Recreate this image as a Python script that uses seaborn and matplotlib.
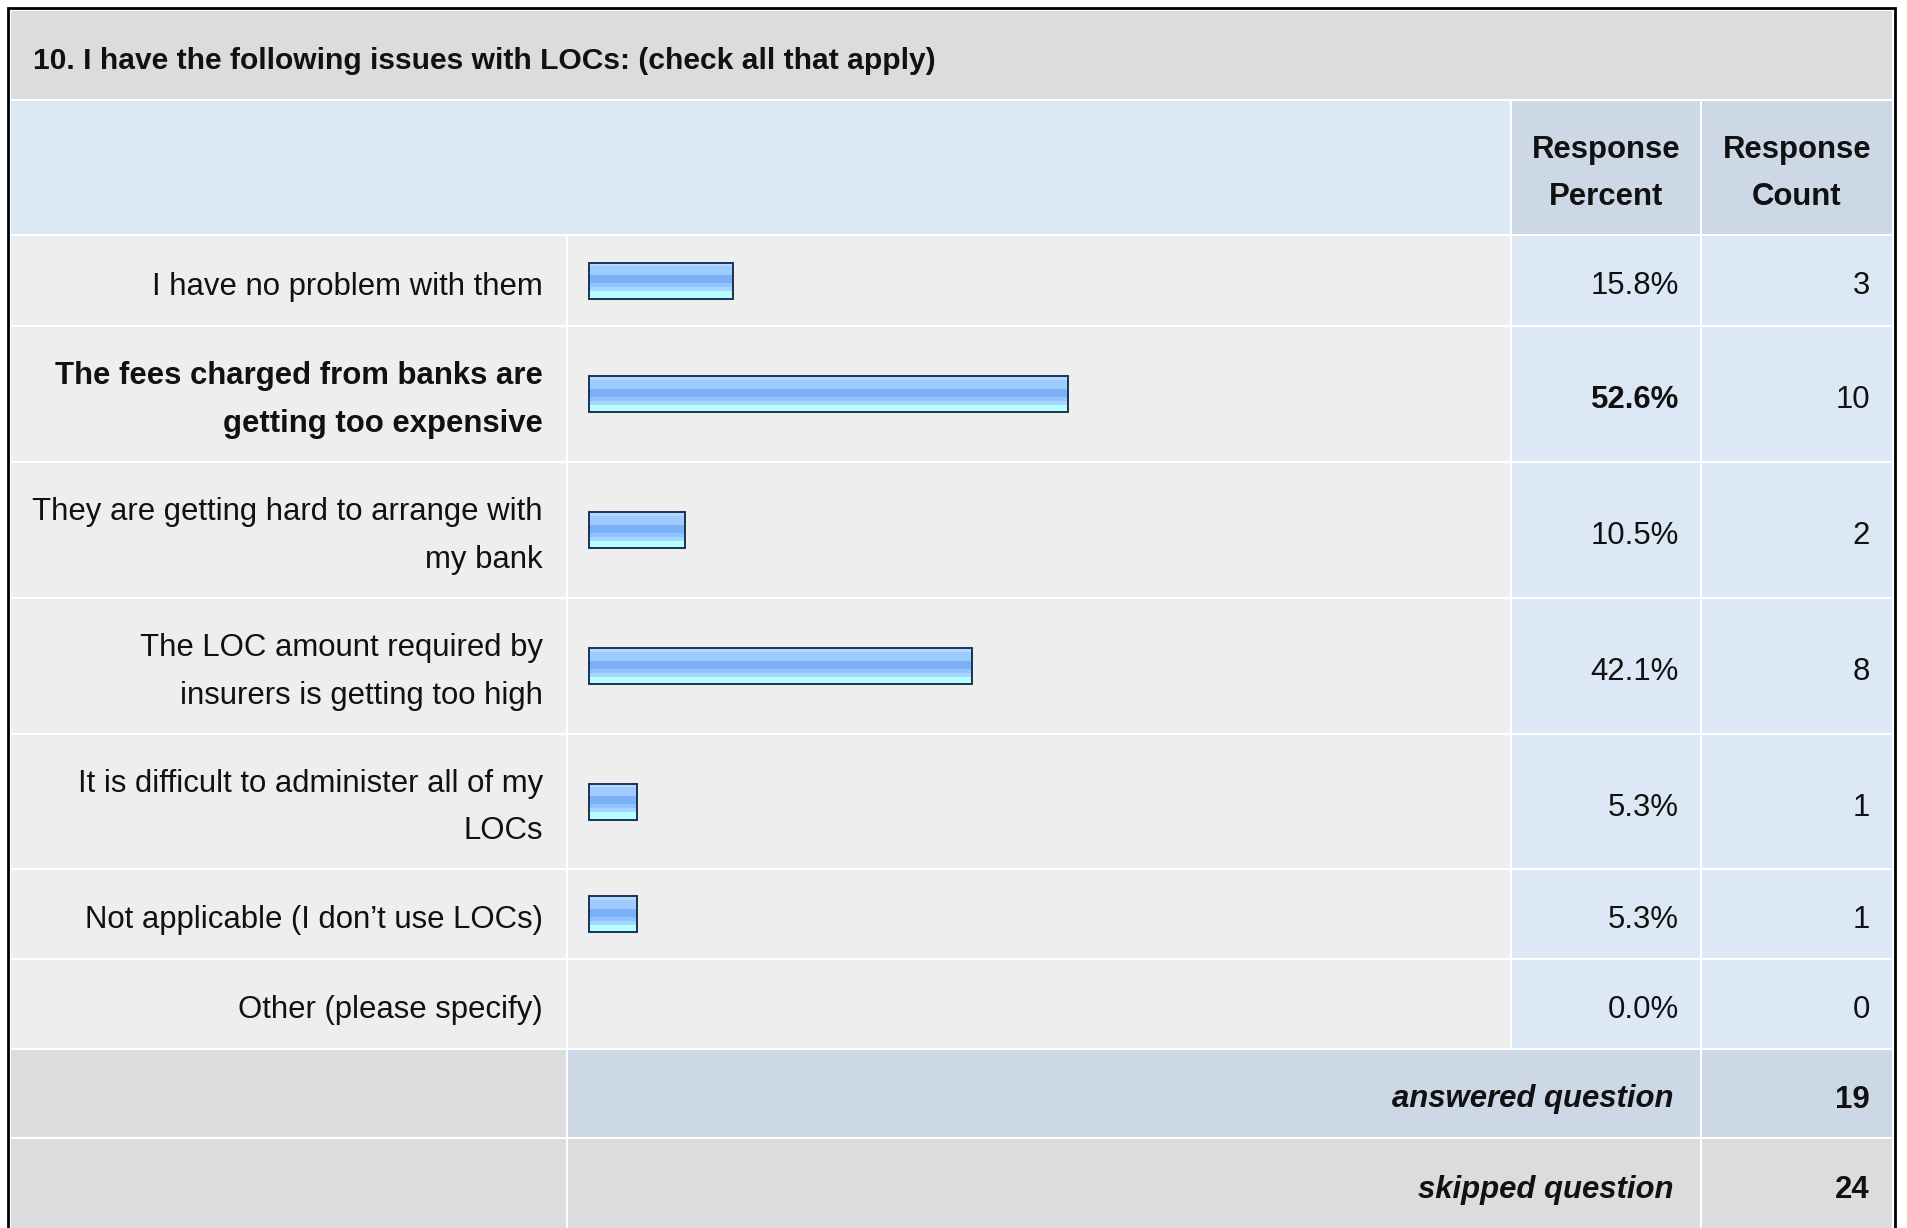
import numpy as np
import pandas as pd
import matplotlib
matplotlib.use("Agg")
import matplotlib.pyplot as plt
from matplotlib.patches import Rectangle
from matplotlib.lines import Line2D
import seaborn as sns

# ---------------- data ----------------
title = "10. I have the following issues with LOCs: (check all that apply)"
header_percent = "Response\nPercent"
header_count = "Response\nCount"
answer_options = [
    "I have no problem with them",
    "The fees charged from banks are\ngetting too expensive",
    "They are getting hard to arrange with\nmy bank",
    "The LOC amount required by\ninsurers is getting too high",
    "It is difficult to administer all of my\nLOCs",
    "Not applicable (I don\u2019t use LOCs)",
    "Other (please specify)",
]
response_percent = [15.8, 52.6, 10.5, 42.1, 5.3, 5.3, 0.0]
response_count = [3, 10, 2, 8, 1, 1, 0]
answered_label = "answered question"
answered_count = 19
skipped_label = "skipped question"
skipped_count = 24

# ---------------- layout (pixels) ----------------
W, H = 1907, 1228
col_edges = [10, 567, 1511, 1701, 1893]
top_edge = 10
title_h = 90
header_h = 135
row_heights = [91, 136, 136, 136, 135, 90, 90]
footer_heights = [89, 92]
bar_x0_px = 589
px_per_pct = 9.10
bar_height_px = 36

C_GRAY = "#DCDCDC"
C_BODY = "#EEEEEE"
C_LBLUE = "#DCE8F5"
C_DBLUE = "#CCD8E6"
C_TEXT = "#111111"
FS = 22.4
FS_TITLE = 21.6
LS = 1.76
DY = 6

sns.set_theme(style="white")
plt.rcParams["font.family"] = ["Liberation Sans", "DejaVu Sans"]

fig = plt.figure(figsize=(W / 100, H / 100), dpi=100)
fig.patch.set_facecolor("white")
bg = fig.add_axes([0, 0, 1, 1])
bg.set_xlim(0, W)
bg.set_ylim(H, 0)
bg.axis("off")

g = 1.3


def cell(x0, x1, y0, y1, color):
    bg.add_patch(Rectangle((x0 + g, y0 + g), (x1 - x0) - 2 * g, (y1 - y0) - 2 * g,
                           facecolor=color, edgecolor="none", zorder=1))


# row edges
y = top_edge
title_y = (y, y + title_h)
y += title_h
header_y = (y, y + header_h)
y += header_h
row_y = []
for h in row_heights:
    row_y.append((y, y + h))
    y += h
body_top, body_bottom = row_y[0][0], row_y[-1][1]
footer_y = []
for h in footer_heights:
    footer_y.append((y, y + h))
    y += h

X = col_edges
# title
cell(X[0], X[4], *title_y, C_GRAY)
bg.text(33, (title_y[0] + title_y[1]) / 2 + DY, title, fontsize=FS_TITLE, fontweight="bold",
        ha="left", va="center", color=C_TEXT, zorder=5)
# header
cell(X[0], X[2], *header_y, C_LBLUE)
cell(X[2], X[3], *header_y, C_DBLUE)
cell(X[3], X[4], *header_y, C_DBLUE)
hy = (header_y[0] + header_y[1]) / 2 + DY
bg.text((X[2] + X[3]) / 2, hy, header_percent, fontsize=FS, fontweight="bold", ha="center",
        va="center", multialignment="center", linespacing=LS, color=C_TEXT, zorder=5)
bg.text((X[3] + X[4]) / 2, hy, header_count, fontsize=FS, fontweight="bold", ha="center",
        va="center", multialignment="center", linespacing=LS, color=C_TEXT, zorder=5)

imax = int(np.argmax(response_percent))
for i, (y0, y1) in enumerate(row_y):
    cell(X[0], X[1], y0, y1, C_BODY)
    cell(X[1], X[2], y0, y1, C_BODY)
    cell(X[2], X[3], y0, y1, C_LBLUE)
    cell(X[3], X[4], y0, y1, C_LBLUE)
    cy = (y0 + y1) / 2 + DY
    fw = "bold" if i == imax else "normal"
    bg.text(543, cy, answer_options[i], fontsize=FS, fontweight=fw, ha="right", va="center",
            multialignment="right", linespacing=LS, color=C_TEXT, zorder=5)
    bg.text(1679, cy, f"{response_percent[i]:.1f}%", fontsize=FS, fontweight=fw, ha="right",
            va="center", color=C_TEXT, zorder=5)
    bg.text(1870, cy, f"{response_count[i]}", fontsize=FS, ha="right", va="center",
            color=C_TEXT, zorder=5)

# footer rows
(fa0, fa1), (fs0, fs1) = footer_y
cell(X[0], X[1], fa0, fa1, C_GRAY)
cell(X[1], X[3], fa0, fa1, C_DBLUE)
cell(X[3], X[4], fa0, fa1, C_DBLUE)
cell(X[0], X[1], fs0, fs1, C_GRAY)
cell(X[1], X[3], fs0, fs1, C_GRAY)
cell(X[3], X[4], fs0, fs1, C_GRAY)
for (f0, f1), lab, cnt in [((fa0, fa1), answered_label, answered_count),
                           ((fs0, fs1), skipped_label, skipped_count)]:
    cy = (f0 + f1) / 2 + DY
    bg.text(1673, cy, lab, fontsize=FS, fontweight="bold", fontstyle="italic", ha="right",
            va="center", color=C_TEXT, zorder=5)
    bg.text(1870, cy, f"{cnt}", fontsize=FS, fontweight="bold", ha="right", va="center",
            color=C_TEXT, zorder=5)

# outer border
bg.add_line(Line2D([7.5, 7.5, 1895, 1895], [H + 5, 8, 8, H + 5], color="black", lw=2.0,
                   solid_joinstyle="miter", zorder=6))

# ---------------- bars (seaborn) ----------------
row_centers = [(a + b) / 2 for a, b in row_y]
df = pd.DataFrame({"option": answer_options, "percent": response_percent, "ypos": row_centers})

ax = fig.add_axes([X[1] / W, 1 - body_bottom / H, (X[2] - X[1]) / W, (body_bottom - body_top) / H])
native_unit = np.min(np.diff(sorted(row_centers)))
sns.barplot(data=df, x="percent", y="ypos", orient="y", native_scale=True,
            width=bar_height_px / native_unit, errorbar=None, ax=ax,
            color="#9FCCFF", edgecolor="#1C3354", linewidth=1.4)
xa = -(bar_x0_px - X[1]) / px_per_pct
xb = xa + (X[2] - X[1]) / px_per_pct
ax.axis("off")
ax.patch.set_alpha(0)

band_spec = [("#C8E6FF", 1), ("#B2D9FF", 3), ("#9FCCFF", 8), ("#7BB0F6", 7),
             ("#90C3FF", 3), ("#A6D5FF", 4), ("#B6FFFF", 6)]
grad = []
for c, n in band_spec:
    grad += [matplotlib.colors.to_rgb(c)] * n
grad = np.array(grad)[:, None, :]

for p in list(ax.patches):
    bx, by, bw, bh = p.get_x(), p.get_y(), p.get_width(), p.get_height()
    if bw <= 0:
        p.set_visible(False)
        continue
    p.set_facecolor("none")
    p.set_zorder(3)
    ax.imshow(grad, extent=(bx, bx + bw, by + bh, by), aspect="auto",
              interpolation="nearest", zorder=2)

ax.set_xlim(xa, xb)
ax.set_ylim(body_bottom, body_top)

fig.savefig("out.png", dpi=100, facecolor="white")
